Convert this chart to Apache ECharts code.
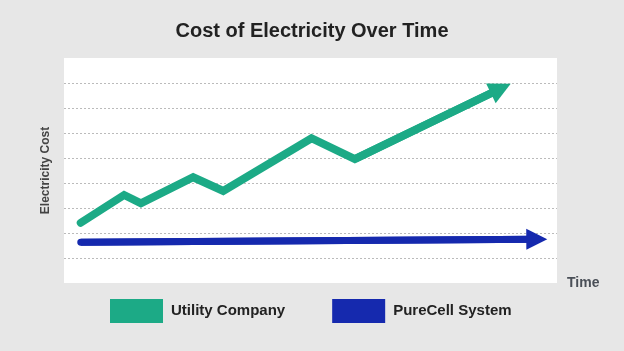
<!DOCTYPE html>
<html>
<head>
<meta charset="utf-8">
<script src="https://cdn.jsdelivr.net/npm/echarts@6/dist/echarts.min.js"></script>
<style>
  html, body { margin: 0; padding: 0; background: #e7e7e7; }
  #chart { width: 624px; height: 351px; }
</style>
</head>
<body>
<div id="chart"></div>
<script>
// time position (0-100) and cost (0-9)
var utilityTime = [3.4, 12.2, 15.6, 26.2, 32.3, 50.2, 59.0, 88.6];
var utilityCost = [2.41, 3.52, 3.19, 4.23, 3.68, 5.79, 4.96, 7.78];
var pureCellTime = [3.4, 95.9];
var pureCellCost = [1.63, 1.75];
var seriesNames = ['Utility Company', 'PureCell System'];

var green = '#1caa86';
var blue = '#1529ae';

function pairs(xs, ys) {
	return xs.map(function(x, i) { return [x, ys[i]]; });
}

var utilityPts = pairs(utilityTime, utilityCost);
var pureCellPts = pairs(pureCellTime, pureCellCost);

var chart = echarts.init(document.getElementById('chart'));

var option = {
	backgroundColor: '#e7e7e7',
	animation: false,
	title: {
		text: 'Cost of Electricity Over Time',
		left: 'center',
		top: 16,
		textStyle: { fontFamily: 'Liberation Sans, Arial', fontSize: 20, fontWeight: 'bold', color: '#222' }
	},
	legend: {
		data: seriesNames,
		left: 110,
		top: 299,
		padding: 0,
		icon: 'rect',
		itemWidth: 53,
		itemHeight: 24,
		itemGap: 47,
		textStyle: { fontFamily: 'Liberation Sans, Arial', fontSize: 15, fontWeight: 'bold', color: '#222', padding: [0, 0, 0, 3] }
	},
	grid: {
		left: 64, top: 58, width: 493, height: 225,
		show: true, backgroundColor: '#fff', borderWidth: 0
	},
	xAxis: {
		type: 'value',
		min: 0, max: 100,
		name: 'Time',
		nameLocation: 'end',
		nameGap: 10,
		nameTextStyle: { fontFamily: 'Liberation Sans, Arial', fontSize: 14, fontWeight: 'bold', color: '#4a4f57', verticalAlign: 'middle' },
		axisLine: { show: false },
		axisTick: { show: false },
		axisLabel: { show: false },
		splitLine: { show: false }
	},
	yAxis: {
		type: 'value',
		min: 0, max: 9, interval: 1,
		name: 'Electricity Cost',
		nameLocation: 'middle',
		nameRotate: 90,
		nameGap: 12,
		nameTextStyle: { fontFamily: 'Liberation Sans, Arial', fontSize: 12, fontWeight: 'bold', color: '#444' },
		axisLine: { show: false },
		axisTick: { show: false },
		axisLabel: { show: false },
		splitLine: {
			show: true, showMinLine: false, showMaxLine: false,
			lineStyle: { color: '#bbb', type: [2, 2], width: 1 }
		}
	},
	series: [
		{
			name: seriesNames[0],
			type: 'line',
			data: utilityPts,
			symbol: 'none',
			itemStyle: { color: green },
			lineStyle: { color: green, width: 8, cap: 'round', join: 'miter' },
			z: 3
		},
		{
			name: seriesNames[0],
			type: 'lines',
			coordinateSystem: 'cartesian2d',
			data: [{ coords: utilityPts.slice(-2) }],
			symbol: ['none', 'triangle'],
			symbolSize: [25, 22],
			lineStyle: { color: green, width: 8, opacity: 1 },
			z: 3
		},
		{
			name: seriesNames[1],
			type: 'line',
			data: pureCellPts,
			symbol: 'none',
			itemStyle: { color: blue },
			lineStyle: { color: blue, width: 7, cap: 'round' },
			z: 3
		},
		{
			name: seriesNames[1],
			type: 'lines',
			coordinateSystem: 'cartesian2d',
			data: [{ coords: pureCellPts }],
			symbol: ['none', 'triangle'],
			symbolSize: [20, 21],
			lineStyle: { color: blue, width: 7, opacity: 1 },
			z: 3
		}
	]
};

chart.setOption(option);
</script>
</body>
</html>
